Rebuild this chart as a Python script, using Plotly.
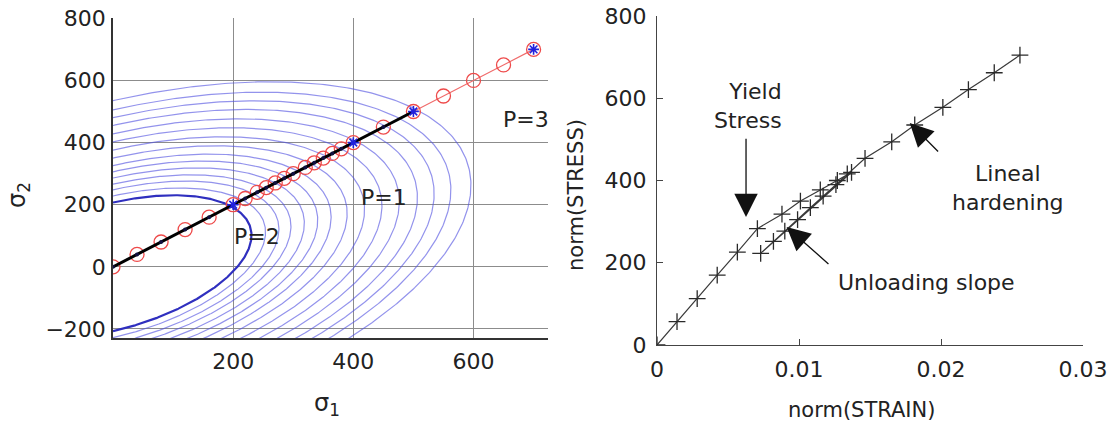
import numpy as np
import plotly.graph_objects as go

# ---- left panel: principal-stress plane ----
# equal principal stresses along the loading diagonal (sigma1 = sigma2 = s)
path_s = [0, 40, 80, 120, 160, 200, 220, 240, 255, 270, 285, 300, 320, 335,
          350, 365, 380, 400, 450, 500, 550, 600, 650, 700]
black_path_s = [0, 40, 80, 120, 160, 200, 220, 240, 255, 270, 285, 300, 320,
                335, 350, 365, 380, 400, 450, 500]
star_s = [200, 400, 500, 700]
# yield-surface sizes (intercept on the sigma2 axis)
initial_surface = 207
hardened_surfaces = [228, 248, 266, 286, 306, 326, 350, 376, 402, 428, 455,
                     480, 505, 535]
coupling = 0.44  # sigma1*sigma2 coefficient of the quadratic yield function
left_xticks = [200, 400, 600]
left_yticks = [-200, 0, 200, 400, 600, 800]
left_labels = [("P=1", 451, 224), ("P=2", 239, 97), ("P=3", 688, 474)]

# ---- right panel: stress-strain norms ----
strain_norm = [0, 0.00141, 0.00283, 0.00424, 0.00566, 0.00707, 0.0088, 0.0101,
               0.0115, 0.0127, 0.0137, 0.0073, 0.0082, 0.0090, 0.0099, 0.0108,
               0.0117, 0.0126, 0.0134, 0.01465, 0.01653, 0.01815, 0.02013,
               0.02193, 0.02375, 0.02556]
stress_norm = [0, 57, 113, 170, 226, 283, 318, 350, 377, 400, 420, 223, 252,
               277, 305, 334, 362, 390, 416, 454, 494, 535, 578, 621, 662, 705]
right_xticks = [0, 0.01, 0.02, 0.03]
right_xticktext = ["0", "0.01", "0.02", "0.03"]
right_yticks = [0, 200, 400, 600, 800]

W, H = 1113, 424
FONT = "DejaVu Sans"
TXT = "#222222"


def px_x(p):
    return p / W


def px_y(p):
    return 1 - p / H


fig = go.Figure()


def surface(k):
    th = np.linspace(-np.pi / 2, np.pi / 2, 361)
    r = k / np.sqrt(1 - coupling * np.sin(2 * th))
    return r * np.cos(th), r * np.sin(th)


for k in hardened_surfaces:
    sx, sy = surface(k)
    fig.add_trace(go.Scatter(x=sx, y=sy, mode="lines", xaxis="x", yaxis="y",
                             line=dict(color="rgba(80,80,225,0.62)", width=1.2),
                             hoverinfo="skip", showlegend=False))
sx, sy = surface(initial_surface)
fig.add_trace(go.Scatter(x=sx, y=sy, mode="lines", xaxis="x", yaxis="y",
                         line=dict(color="#2f2fbf", width=2.2),
                         hoverinfo="skip", showlegend=False))

fig.add_trace(go.Scatter(x=path_s, y=path_s, mode="lines+markers",
                         xaxis="x", yaxis="y",
                         line=dict(color="#f06a6a", width=1.2),
                         marker=dict(symbol="circle-open", size=14,
                                     color="#ee4a4a", line=dict(width=1.3)),
                         showlegend=False))
fig.add_trace(go.Scatter(x=black_path_s, y=black_path_s, mode="lines+markers",
                         xaxis="x", yaxis="y",
                         line=dict(color="#000000", width=3),
                         marker=dict(size=4, color="#101040"),
                         showlegend=False))
fig.add_trace(go.Scatter(x=star_s, y=star_s, mode="markers",
                         xaxis="x", yaxis="y",
                         marker=dict(symbol="asterisk-open", size=9,
                                     color="#2020dd", line=dict(width=1.6)),
                         showlegend=False))

fig.add_trace(go.Scatter(x=strain_norm, y=stress_norm, mode="lines+markers",
                         xaxis="x2", yaxis="y2",
                         line=dict(color="#3a3a3a", width=1.2),
                         marker=dict(symbol="cross-thin-open", size=12,
                                     color="#2a2a2a", line=dict(width=1.3)),
                         showlegend=False))

tick_font = dict(family=FONT, size=22, color=TXT)

fig.update_layout(
    template="none",
    width=W, height=H,
    margin=dict(l=0, r=0, t=0, b=0, pad=0),
    paper_bgcolor="white", plot_bgcolor="white",
    showlegend=False,
    xaxis=dict(domain=[px_x(113), px_x(548)], range=[0, 724],
               tickvals=left_xticks, showgrid=True, gridcolor="#8c8c8c",
               gridwidth=1, zeroline=False, showline=True,
               linecolor="#333333", linewidth=2, ticks="",
               tickfont=tick_font, ticklabelstandoff=3, anchor="y",
               automargin=False),
    yaxis=dict(domain=[px_y(338), px_y(18)], range=[-229, 801],
               tickvals=left_yticks, showgrid=True, gridcolor="#8c8c8c",
               gridwidth=1, zeroline=False, showline=True,
               linecolor="#333333", linewidth=1.5, ticks="",
               tickfont=tick_font, ticklabelstandoff=1, anchor="x",
               automargin=False),
    xaxis2=dict(domain=[px_x(657), px_x(1083)], range=[0, 0.03],
                tickvals=right_xticks, ticktext=right_xticktext,
                showgrid=False, zeroline=False, showline=True,
                linecolor="#444444", linewidth=1.3, ticks="inside",
                ticklen=6, tickcolor="#444444", tickfont=tick_font,
                ticklabelstandoff=4, anchor="y2", automargin=False),
    yaxis2=dict(domain=[px_y(345), px_y(16)], range=[0, 800],
                tickvals=right_yticks, showgrid=False, zeroline=False,
                showline=True, linecolor="#444444", linewidth=1.3,
                ticks="inside", ticklen=6, tickcolor="#444444",
                tickfont=tick_font, ticklabelstandoff=5, anchor="x2",
                automargin=False),
)

ann = []
for txt, xv, yv in left_labels:
    ann.append(dict(x=xv, y=yv, xref="x", yref="y", text=txt, showarrow=False,
                    font=dict(family=FONT, size=22, color=TXT)))

# axis titles
centered = dict(xref="paper", yref="paper", xanchor="center",
                yanchor="middle", showarrow=False)
ann.append(dict(x=px_x(327), y=px_y(404), text="σ<sub>1</sub>",
                font=dict(family=FONT, size=24, color=TXT), **centered))
ann.append(dict(x=px_x(18), y=px_y(195), text="σ<sub>2</sub>", textangle=-90,
                font=dict(family=FONT, size=24, color=TXT), **centered))
ann.append(dict(x=px_x(861), y=px_y(410), text="norm(STRAIN)",
                font=dict(family=FONT, size=21, color=TXT), **centered))
ann.append(dict(x=px_x(576), y=px_y(195), text="norm(STRESS)", textangle=-90,
                font=dict(family=FONT, size=21, color=TXT), **centered))

# right-panel callouts
note_font = dict(family=FONT, size=22, color=TXT)
ann.append(dict(x=0.00895, y=581, xref="x2", yref="y2", xanchor="right",
                align="right", text="Yield<br>Stress", showarrow=False,
                font=note_font))
ann.append(dict(x=0.0247, y=382, xref="x2", yref="y2", align="center",
                text="Lineal<br>hardening", showarrow=False, font=note_font))
ann.append(dict(x=0.01898, y=151, xref="x2", yref="y2",
                text="Unloading slope", showarrow=False, font=note_font))

arrow_style = dict(showarrow=True, arrowhead=2, arrowsize=3.6, arrowwidth=1.3,
                   arrowcolor="#111111", text="", xref="x2", yref="y2",
                   axref="x2", ayref="y2")
ann.append(dict(x=0.00627, y=311, ax=0.00627, ay=505, **arrow_style))
ann.append(dict(x=0.0178, y=540, ax=0.0199, ay=467, **arrow_style))
ann.append(dict(x=0.00913, y=287, ax=0.01218, ay=194, **arrow_style))

fig.update_layout(annotations=ann)

fig.write_html("out.html")
